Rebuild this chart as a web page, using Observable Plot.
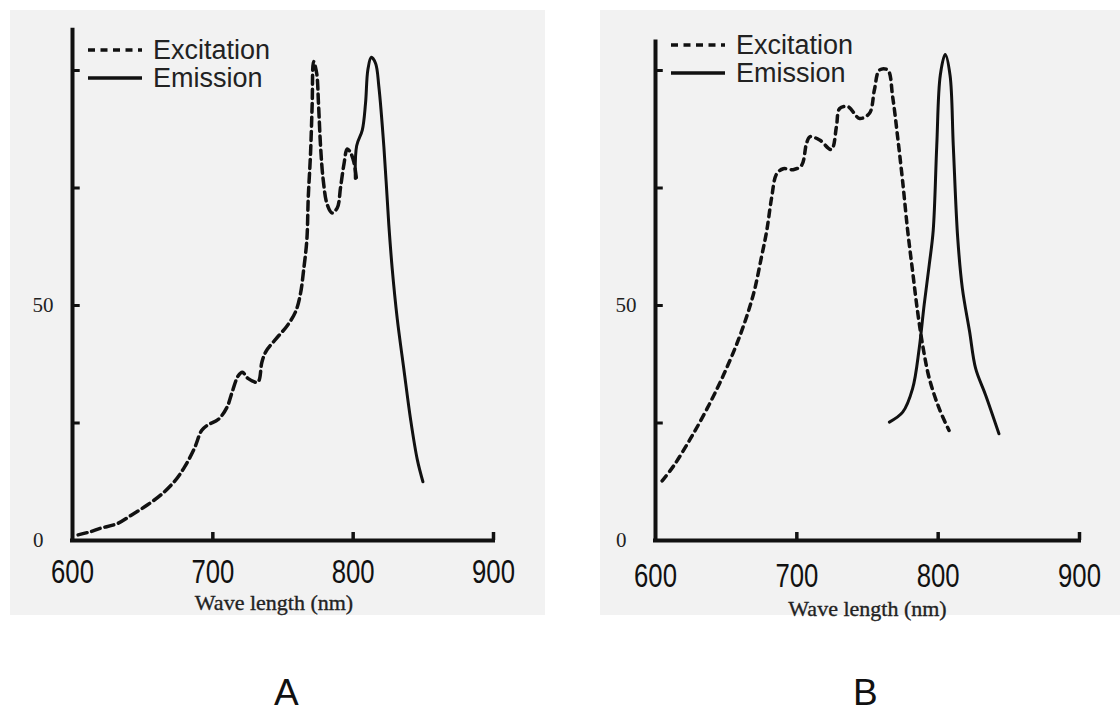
<!DOCTYPE html>
<html><head><meta charset="utf-8">
<script src="https://cdn.jsdelivr.net/npm/d3@7"></script>
<script src="https://cdn.jsdelivr.net/npm/@observablehq/plot@0.6"></script>
<style>
html,body{margin:0;padding:0;background:#fff;}
body{width:1120px;height:715px;position:relative;overflow:hidden;font-family:"Liberation Sans",Arial,sans-serif;}
.panel{position:absolute;background:#f2f2f2;}
.panel svg{position:absolute;left:0;top:0;}
.leg{position:absolute;display:flex;align-items:center;font-size:27px;color:#222;height:28px;white-space:nowrap;}
.leg svg{position:static;margin-right:11px;}
.cap{position:absolute;font-size:37px;line-height:0.8;color:#111;font-family:"Liberation Sans",Arial,sans-serif;}
</style></head><body>
<div id="A" class="panel" style="left:10px;top:10px;width:535px;height:605px"></div>
<div id="B" class="panel" style="left:600px;top:10px;width:520px;height:605px"></div>
<div id="capA" class="cap" style="left:274px;top:678px"></div>
<div id="capB" class="cap" style="left:853px;top:678px"></div>
<script>
// ---- data ----
const seriesNames = ["Excitation", "Emission"];
const xTicks = [600, 700, 800, 900];
const yTicks = [0, 25, 50, 75, 100];
const yLabels = [0, 50];
const axisTitle = "Wave length (nm)";
const panelLabels = ["A", "B"];

// Panel A
const excA_nm = [604,612,620,632,643,653,663,673,680,687,692,696,704,710,714,718,721,725,732,735,738,745,753,759,762.5,764.6,767,768,769.6,770.8,771.8,774,775.3,776.8,778.7,781.5,785,788.7,791,793.4,795.8,798,800.5,802.4];
const excA_v  = [1.2,1.8,2.6,3.6,5.6,7.5,9.7,12.7,15.7,19.7,23.4,24.5,25.8,28.3,31.8,35,35.8,34.5,33.7,38,40.3,42.9,45.7,48.7,52.6,57.3,64,73,82.2,92.9,101.9,99.4,92.9,83.7,76.6,71.5,69.7,70.8,75.1,80,83.3,82.6,80.5,76.8];
const emiA_nm = [801.5,802.5,806.5,808.8,810.5,812.9,816,818.3,821.9,825.4,827.8,831.4,836.1,840.9,845.7,849.7];
const emiA_v  = [77,84,87.3,93,100.2,102.8,101.5,96.6,83.7,67.2,57.9,47.2,36.5,25.8,17.2,12.5];

// Panel B
const excB_nm = [604.7,612.9,624.6,636.4,648.1,659.9,669.2,675.1,678.7,682.2,685.7,690.4,697.4,703.3,706.8,709.2,716.2,724.4,728,730.3,736.2,744.4,751.4,754.9,758.5,764.3,767.8,771.3,774.8,778.4,781.9,785.4,789,793.7,800.7,807.7];
const excB_v  = [12.7,15.9,21.6,28,35.2,43.7,52.3,60.5,65.9,73,78,79.1,78.9,79.8,84.4,85.9,85.2,83.2,88,91.9,92.3,89.8,90.9,95.9,100.1,100.1,94.4,85.9,76.6,66,57.3,48.8,41.6,34.5,28.1,23.4];
const emiB_nm = [765.5,774.9,781.9,786.6,790.1,793.7,796.5,799,801.5,805,808.4,810.7,813.8,817.1,822.2,826.5,833.6,843];
const emiB_v  = [25.2,27.3,32.3,40.9,50.2,58.7,66,84,99,103.4,99,84,64.5,53.7,44.5,36.6,30.9,22.7];

const zip = (xs, ys) => xs.map((x, i) => ({nm: x, v: ys[i]}));

const sans = '"Liberation Sans",Arial,sans-serif';
const serif = '"Liberation Serif","Times New Roman",serif';

function makePanel({exc, emi, width, marginLeft, marginRight, yTop, titleDx, titleDy, lblDy, dash}) {
  return Plot.plot({
    width, height: 605,
    marginLeft, marginRight, marginTop: 13, marginBottom: 75,
    x: {domain: [600, 900], axis: null},
    y: {domain: [0, 110], axis: null},
    style: {background: "transparent", overflow: "visible", color: "#111"},
    marks: [
      Plot.ruleY([0], {x1: 600, x2: 900, stroke: "#111", strokeWidth: 4, strokeLinecap: "square"}),
      Plot.ruleX([600], {y1: 0, y2: yTop, stroke: "#111", strokeWidth: 4}),
      Plot.ruleX(xTicks.slice(1), {x: d => d, y1: 0, y2: 1.7, stroke: "#111", strokeWidth: 3.5}),
      Plot.ruleY(yTicks.slice(1), {y: d => d, x1: 600, x2: 605.5, stroke: "#111", strokeWidth: 3}),
      Plot.text(xTicks, {x: d => d, y: 0, dy: lblDy, text: d => String(d), fontSize: 33, fontFamily: sans, fill: "#111"}),
      Plot.text(yLabels.filter(d => d === 50), {x: 600, y: d => d, dx: -19, text: d => String(d), textAnchor: "end", fontSize: 21, fontFamily: serif, fill: "#222"}),
      Plot.text(yLabels.filter(d => d === 0), {x: 600, y: d => d, dx: -29, text: d => String(d), textAnchor: "end", fontSize: 21, fontFamily: serif, fill: "#222"}),
      Plot.text([axisTitle], {frameAnchor: "bottom", dx: titleDx, dy: titleDy, text: d => d, fontSize: 22, fontFamily: serif, fill: "#222", stroke: "#222", strokeWidth: 0.35}),
      Plot.line(exc, {x: "nm", y: "v", curve: "catmull-rom", stroke: "#111", strokeWidth: 3.5, strokeDasharray: dash}),
      Plot.line(emi, {x: "nm", y: "v", curve: "catmull-rom", stroke: "#111", strokeWidth: 3})
    ]
  });
}

// squeeze the tick-label digits horizontally (narrow grotesque in the reference)
function condense(svg, k) {
  const labels = xTicks.map(String);
  d3.select(svg).selectAll("text").each(function() {
    if (!labels.includes(this.textContent)) return;
    const w = this.getComputedTextLength();
    if (w > 0) {
      this.setAttribute("textLength", (w * k).toFixed(1));
      this.setAttribute("lengthAdjust", "spacingAndGlyphs");
    }
  });
}

const A = makePanel({exc: zip(excA_nm, excA_v), emi: zip(emiA_nm, emiA_v), width: 535, marginLeft: 62, marginRight: 52, yTop: 109, titleDx: -9, titleDy: 69, lblDy: 32, dash: "9,5"});
const B = makePanel({exc: zip(excB_nm, excB_v), emi: zip(emiB_nm, emiB_v), width: 520, marginLeft: 55, marginRight: 41, yTop: 106.5, titleDx: 0, titleDy: 75, lblDy: 36, dash: "6.5,5.5"});
document.getElementById("A").appendChild(A);
document.getElementById("B").appendChild(B);
condense(A, 0.78);
condense(B, 0.78);
document.getElementById("capA").textContent = panelLabels[0];
document.getElementById("capB").textContent = panelLabels[1];

function legend(panelId, left, top, dash) {
  const el = document.getElementById(panelId);
  seriesNames.forEach((name, i) => {
    const row = document.createElement("div");
    row.className = "leg";
    row.style.left = left + "px";
    row.style.top = (top + i * 28) + "px";
    const da = i === 0 ? `stroke-dasharray="${dash}"` : "";
    row.innerHTML = `<svg width="55" height="10"><line x1="1" y1="5" x2="55" y2="5" stroke="#111" stroke-width="3.5" ${da}/></svg><span>${name}</span>`;
    el.appendChild(row);
  });
}
legend("A", 77, 26, "7,5.5");
legend("B", 70, 21, "7,5.5");
</script>
</body></html>
